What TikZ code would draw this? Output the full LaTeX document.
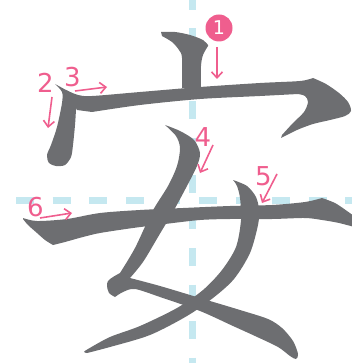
\documentclass[tikz,border=0pt]{standalone}
\usepackage{fontspec}
\newfontfamily\numfont{DejaVu Sans}
\usetikzlibrary{arrows.meta}
\definecolor{inkgray}{HTML}{6D6E71}
\definecolor{hintpink}{HTML}{EF5E8E}
\definecolor{guideblue}{HTML}{C5E8F0}

\begin{document}
\begin{tikzpicture}[x=1pt, y=-1pt,
    guide/.style = {guideblue, line width=7pt, dash pattern=on 18pt off 18.6pt},
    stroke/.style = {fill=inkgray},
    num/.style = {text=hintpink, inner sep=0pt,
      font=\numfont\fontsize{26}{26}\selectfont},
    badge/.style = {circle, fill=hintpink, text=white, inner sep=0pt,
      minimum size=27pt, font=\numfont\fontsize{19}{19}\selectfont},
    hint/.style = {hintpink, line width=1.6pt,
      -{Straight Barb[length=6pt,width=11pt]}}]
  \useasboundingbox (0,0) rectangle (352,363);
  \begin{scope}
    \clip (0,0) rectangle (352,363);
    % guide lines
    \draw[guide] (192.5,-8.3) -- (192.5,370);
    \draw[guide] (16,200.5) -- (360,200.5);
    % strokes of the character
    \fill[stroke] plot[smooth] coordinates {(161,32) (175,32) (190,35) (203,40) (208,45)}
      -- plot[smooth] coordinates {(208,46) (203,55) (201,66) (201,88)}
      -- (182,88)
      -- plot[smooth] coordinates {(182,88) (182,58) (179,50) (172,42) (162,36)} -- cycle;
    \fill[stroke] plot[smooth] coordinates {(55,84) (66,90) (77,96)}
      -- plot[smooth] coordinates {(77,96) (76,110) (75,125) (73,145) (71,157) (65,165)
        (56,166) (49,163) (47,155) (51,145) (57,127) (62,103) (62,92) (55,84)} -- cycle;
    \fill[stroke] plot[smooth] coordinates {(66,90) (78,95) (92,96) (140,92) (200,87)
        (260,83) (300,81) (313,78)}
      -- plot[smooth] coordinates {(313,78) (326,84) (339,93) (348,102) (351,111) (345,116)
        (330,120) (313,124) (297,130) (281,138)}
      -- plot[smooth] coordinates {(282,135) (293,123) (304,112) (308,102) (305,96) (298,94)}
      -- plot[smooth] coordinates {(298,94) (260,96) (200,99) (140,105) (92,112)}
      -- (77,110) -- cycle;
    \fill[stroke] plot[smooth] coordinates {(165,125) (180,131) (194,140) (200,153) (197,166)
        (188,184) (174,210) (158,237) (143,262) (130,278)}
      -- plot[smooth] coordinates {(130,278) (160,286) (200,298) (240,310) (268,319) (282,328)
        (293,341) (298,354) (296,359) (290,356) (278,347) (255,336) (233,326) (200,311)
        (160,297) (135,289) (123,292) (115,297)}
      -- plot[smooth] coordinates {(115,297) (109,293) (107,286) (108,281) (113,277) (120,273)}
      -- plot[smooth] coordinates {(120,273) (135,248) (152,212) (168,186) (177,166) (180,148)
        (176,136) (165,125)} -- cycle;
    \fill[stroke] plot[smooth] coordinates {(233,180) (247,186) (256,197) (259,210) (258,225)
        (250,253) (234,279) (213,298) (187,316) (150,335) (110,347) (87,353)}
      -- plot[smooth] coordinates {(87,353) (84,352) (88,349) (110,337) (140,326) (177,308)
        (203,290) (222,270) (236,247) (241,220) (240,198) (237,186) (233,180)} -- cycle;
    \fill[stroke] plot[smooth] coordinates {(23,218) (37,221) (67,219) (100,213) (140,210)
        (183,208) (230,206) (272,205) (305,202) (322,198)}
      -- plot[smooth] coordinates {(322,198) (335,203) (347,211) (358,219)}
      -- plot[smooth] coordinates {(358,228) (339,223) (322,220) (305,218) (272,219) (230,219)
        (200,220) (165,224) (133,228) (100,233) (83,237) (65,242) (53,245)}
      -- plot[smooth] coordinates {(53,245) (45,240) (37,233) (28,225) (23,219)} -- cycle;
  \end{scope}
  % order numbers
  \node[badge] (n1) at (219,28) {1};
  \node[num] (n2) at (45.5,83) {2};
  \node[num] (n3) at (72.5,77.5) {3};
  \node[num] (n4) at (203,137) {4};
  \node[num] (n5) at (263.5,176) {5};
  \node[num] (n6) at (35.5,207) {6};
  % direction arrows
  \coordinate (h1a) at (217,47);  \coordinate (h1b) at (217,79);
  \coordinate (h2a) at (52,97);   \coordinate (h2b) at (48,128);
  \coordinate (h3a) at (75,91);   \coordinate (h3b) at (107,87);
  \coordinate (h4a) at (213,145); \coordinate (h4b) at (200,173);
  \coordinate (h5a) at (277,174); \coordinate (h5b) at (262,203);
  \coordinate (h6a) at (40,218);  \coordinate (h6b) at (72,213);
  \foreach \i in {1,...,6}
    \draw[hint] (h\i a) -- (h\i b);
\end{tikzpicture}
\end{document}
